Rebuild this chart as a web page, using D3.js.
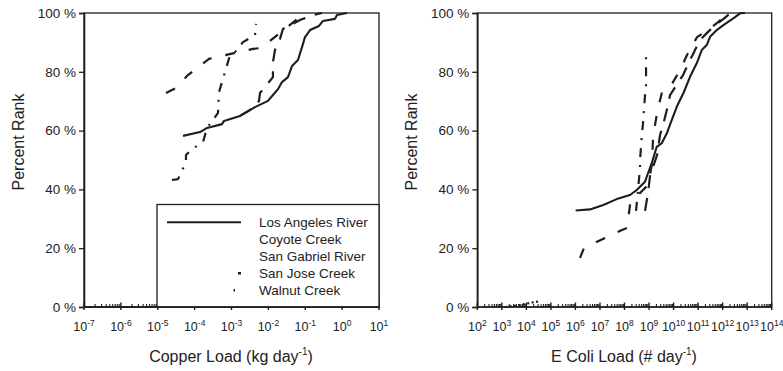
<!DOCTYPE html>
<html>
<head>
<meta charset="utf-8">
<script src="https://cdn.jsdelivr.net/npm/d3@7"></script>
<style>
  body { margin: 0; background: #fff; }
  text { font-family: "Liberation Sans", Arial, sans-serif; fill: #222; }
</style>
</head>
<body>
<svg id="chart" width="783" height="371"></svg>
<script>
// ---- data: cumulative percent rank of daily loads per watershed ----
const seriesNames = ["Los Angeles River", "Coyote Creek", "San Gabriel River", "San Jose Creek", "Walnut Creek"];
const rankTicks = [0, 20, 40, 60, 80, 100];
const copperDecades = [-7, -6, -5, -4, -3, -2, -1, 0, 1];
const ecoliDecades = [2, 3, 4, 5, 6, 7, 8, 9, 10, 11, 12, 13, 14];

// Copper load (kg/day) vs percent rank
const laCopper = [[4.84e-5, 58.2], [1.40e-4, 59.5], [2.17e-4, 60.9], [5.52e-4, 62.2], [6.26e-4, 63.3],
  [1.70e-3, 65.0], [4.34e-3, 68.0], [9.77e-3, 70.1], [0.0133, 72.1], [0.0182, 74.1], [0.0234, 76.5],
  [0.0340, 78.2], [0.0438, 82.0], [0.0635, 84.0], [0.0817, 88.4], [0.0984, 91.8], [0.135, 94.2],
  [0.236, 95.6], [0.303, 97.3], [0.641, 98.0], [0.726, 99.3], [1.36, 100]];
const coyoteCopper = [[1.68e-5, 72.8], [3.13e-5, 74.5], [6.21e-5, 78.6], [1.16e-4, 81.3], [2.45e-4, 84.4],
  [3.83e-3, 87.8], [6.31e-3, 88.1], [0.0527, 97.3], [0.0817, 99.7], [0.0984, 100]];
const gabrielCopper = [[1.70e-3, 65.0], [4.34e-3, 68.0], [5.57e-3, 70.1], [5.93e-3, 72.8], [0.0133, 78.2],
  [0.0133, 83.3], [0.0151, 87.4], [0.0207, 91.2], [0.0249, 94.6], [0.0721, 97.6], [0.162, 99.3], [0.284, 100]];
const sanJoseCopper = [[2.43e-5, 43.2], [3.54e-5, 43.5], [5.83e-5, 49.3], [5.83e-5, 51.7], [8.49e-5, 53.7],
  [1.69e-4, 56.1], [2.17e-4, 60.9], [4.31e-4, 66.0], [4.58e-4, 73.1], [6.67e-4, 79.9], [9.10e-4, 85.7],
  [1.24e-3, 86.7], [2.05e-3, 90.1], [4.34e-3, 92.5], [4.61e-3, 96.3]];
const walnutCopper = [];

// E. coli load (#/day) vs percent rank
const laEcoli = [[1.02e6, 32.8], [3.93e6, 33.2], [1.37e7, 34.7], [4.82e7, 36.7], [1.68e8, 38.1],
  [3.15e8, 39.8], [6.87e8, 42.6], [8.06e8, 44.3], [1.29e9, 48.9], [2.06e9, 54.5], [3.29e9, 55.7],
  [5.26e9, 59.0], [8.41e9, 63.6], [1.35e10, 68.1], [2.50e10, 72.7], [4.69e10, 78.3], [8.79e10, 82.9],
  [1.41e11, 87.4], [2.25e11, 89.1], [3.07e11, 91.9], [5.75e11, 94.2], [1.07e12, 95.9], [2.73e12, 98.2],
  [5.13e12, 99.9], [8.20e12, 100]];
const coyoteEcoli = [[1.54e6, 16.7], [2.24e6, 20.1], [7.93e7, 26.2], [1.27e8, 26.9], [1.68e8, 34.7],
  [2.69e8, 37.1], [9.10e8, 41.5], [1.32e9, 48.6], [1.46e9, 57.8], [2.12e9, 66.0], [3.39e9, 73.1],
  [8.67e9, 75.9], [1.84e10, 80.6], [3.54e10, 85.7], [9.06e10, 91.8], [2.54e11, 94.2], [6.50e11, 96.9],
  [1.25e12, 99.0], [2.42e12, 100]];
const gabrielEcoli = [[6.87e8, 32.7], [9.10e8, 38.8], [1.10e9, 44.6], [2.12e9, 51.7], [2.81e9, 58.5],
  [3.72e9, 61.9], [5.96e9, 68.7], [7.18e9, 72.1], [2.43e10, 78.9], [4.69e10, 84.0], [1.20e11, 90.8],
  [2.11e11, 92.9], [4.91e11, 95.9], [9.46e11, 97.6], [1.66e12, 99.3], [3.21e12, 100]];
const sanJoseEcoli = [[2.95e8, 32.7], [4.30e8, 47.3], [4.30e8, 50.0], [5.19e8, 59.2], [5.70e8, 62.6],
  [6.87e8, 72.1], [7.55e8, 74.5], [7.55e8, 85.7], [8.30e8, 87.4]];
const walnutEcoli = [[1.35e3, 0], [5.51e3, 0.7], [1.41e4, 1.4], [3.60e4, 2.0]];

// ---- styles ----
const ink = "#1e1e1e";
const lineDash = ["none", "10 14", "13 10", "9 8 2 8", "2 2.5"];
const legendDash = ["none", "0 80", "0 80", "0 71 3 10", "0 66.5 1.5 20"];

const svg = d3.select("#chart");

function drawPanel(opts) {
  const { x0, x1, y0, y1, domain, decades, series, title } = opts;
  const x = d3.scaleLog().domain(domain).range([x0, x1]);
  const y = d3.scaleLinear().domain([0, 100]).range([y1, y0]);
  const g = svg.append("g");

  // frame
  g.append("rect").attr("x", x0).attr("y", y0).attr("width", x1 - x0).attr("height", y1 - y0)
    .attr("fill", "none").attr("stroke", ink).attr("stroke-width", 1.3);

  // y axis
  const yAxis = g.append("g").attr("transform", `translate(${x0},0)`)
    .call(d3.axisLeft(y).tickValues(rankTicks).tickSize(5).tickPadding(3).tickFormat(d => d + " %"));
  yAxis.select(".domain").attr("stroke", ink).attr("stroke-width", 1.6);
  yAxis.selectAll(".tick line").attr("stroke", ink).attr("stroke-width", 1.3);
  yAxis.selectAll(".tick text").attr("font-size", 13.5).attr("font-family", "Liberation Sans, Arial, sans-serif").attr("fill", "#222");

  // x axis: decade and minor log ticks
  g.append("line").attr("x1", x0).attr("x2", x1).attr("y1", y1).attr("y2", y1)
    .attr("stroke", ink).attr("stroke-width", 1.6);
  const minor = [];
  decades.slice(0, -1).forEach(e => { for (let m = 2; m <= 9; m++) minor.push(m * Math.pow(10, e)); });
  g.selectAll(".minor").data(minor).join("line")
    .attr("x1", d => x(d)).attr("x2", d => x(d)).attr("y1", y1).attr("y2", y1 - 3)
    .attr("stroke", ink).attr("stroke-width", 1.1);
  g.selectAll(".major").data(decades).join("line")
    .attr("x1", d => x(Math.pow(10, d))).attr("x2", d => x(Math.pow(10, d)))
    .attr("y1", y1 + 3).attr("y2", y1 - 4.5)
    .attr("stroke", ink).attr("stroke-width", 1.4);
  const lab = g.selectAll(".xlab").data(decades).join("text")
    .attr("x", d => x(Math.pow(10, d))).attr("y", y1 + 24)
    .attr("text-anchor", "middle").attr("font-size", 12.5);
  lab.append("tspan").text("10");
  lab.append("tspan").attr("dy", -5).attr("font-size", 8.5).text(d => d < 0 ? "-" + (-d) : d);

  // axis titles
  g.append("text").attr("transform", `translate(${x0 - 60},142) rotate(-90)`)
    .attr("text-anchor", "middle").attr("font-size", 16).text("Percent Rank");
  const t = g.append("text").attr("x", (x0 + x1) / 2 - 0.5).attr("y", 362)
    .attr("text-anchor", "middle").attr("font-size", 16);
  t.append("tspan").text(title);
  t.append("tspan").attr("dy", -7).attr("font-size", 10).text("-1");
  t.append("tspan").attr("dy", 7).text(")");

  // clip curves to plotting area
  const clipId = "clip" + Math.round(x0);
  g.append("clipPath").attr("id", clipId).append("rect")
    .attr("x", x0).attr("y", y0 - 2).attr("width", x1 - x0).attr("height", y1 - y0 + 4);

  const line = d3.line().x(d => x(d[0])).y(d => y(d[1]));
  g.append("g").attr("clip-path", `url(#${clipId})`)
    .selectAll("path").data(series).join("path")
    .attr("d", d => d.length ? line(d) : null)
    .attr("fill", "none").attr("stroke", ink)
    .attr("stroke-width", (d, i) => i === 0 ? 2.1 : 2.2)
    .attr("stroke-linejoin", "round")
    .attr("stroke-dasharray", (d, i) => lineDash[i]);
  return g;
}

drawPanel({ x0: 84, x1: 379, y0: 13, y1: 307, domain: [1e-7, 1e1], decades: copperDecades,
  series: [laCopper, coyoteCopper, gabrielCopper, sanJoseCopper, walnutCopper], title: "Copper Load (kg day" });
drawPanel({ x0: 477.3, x1: 771.7, y0: 13, y1: 307, domain: [1e2, 1e14], decades: ecoliDecades,
  series: [laEcoli, coyoteEcoli, gabrielEcoli, sanJoseEcoli, walnutEcoli], title: "E Coli Load (# day" });

// legend in the copper panel
const leg = svg.append("g");
leg.append("rect").attr("x", 157).attr("y", 204.5).attr("width", 222).attr("height", 102.5)
  .attr("fill", "#fff").attr("stroke", ink).attr("stroke-width", 1.3);
const rows = leg.selectAll(".row").data(seriesNames).join("g")
  .attr("transform", (d, i) => `translate(0,${222.3 + i * 17})`);
rows.append("line").attr("x1", 167).attr("x2", 241).attr("y1", 0).attr("y2", 0)
  .attr("stroke", ink).attr("stroke-width", (d, i) => i === 0 ? 2.1 : 2.4)
  .attr("stroke-dasharray", (d, i) => legendDash[i]);
rows.append("text").attr("x", 259).attr("y", 5).attr("font-size", 13.5).text(d => d);
// redraw the axis line and its ticks over the legend box bottom
svg.append("line").attr("x1", 84).attr("x2", 379).attr("y1", 307).attr("y2", 307)
  .attr("stroke", ink).attr("stroke-width", 1.6);
</script>
</body>
</html>
